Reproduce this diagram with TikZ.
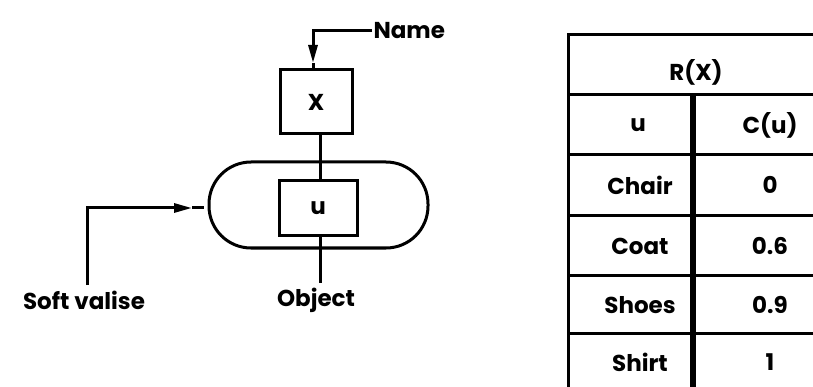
\documentclass[tikz,border=0pt]{standalone}
\usepackage{fontspec}
\setmainfont{Poppins}
\usetikzlibrary{arrows.meta}
\begin{document}
\begin{tikzpicture}[x=1pt,y=-1pt,line width=3pt,
  lbl/.style={font=\fontsize{23}{26}\selectfont\bfseries, inner sep=0pt},
  boxnode/.style={draw, line width=3pt, inner sep=0pt, font=\fontsize{23}{26}\selectfont\bfseries},
  tip/.style={-{Triangle[length=18pt,width=9pt]}},
  rule/.style={line width=3pt},
  thickrule/.style={line width=6pt}]
\useasboundingbox (0,0) rectangle (813,387);
\clip (0,0) rectangle (813,387);
% left diagram
\node[boxnode, minimum width=219pt, minimum height=86pt, rounded corners=42pt] (cap) at (318.5,205) {};
\node[boxnode, minimum width=72pt, minimum height=64pt] (X) at (316,102) {X};
\node[boxnode, minimum width=78pt, minimum height=55pt] (u) at (318,208.5) {u};
\node[lbl, anchor=west] (name) at (372,31) {Name};
\node[lbl] (sv) at (84,300) {Soft valise};
\node[lbl] (obj) at (316,300) {Object};
\coordinate (na) at (313,63);
\coordinate (svc) at (87,285);
\coordinate (sva) at (192,208);
\coordinate (objc) at (320,283);
\draw[tip] (name.west) -| (na);
\draw (na) -- (na |- X.north);
\draw (X.south -| objc) -- (u.north -| objc);
\draw (u.south -| objc) -- (objc);
\draw[tip] (svc) |- (sva);
\draw (sva) -- ([xshift=-4pt]cap.west |- sva);
% table
\draw[rule] (568,35) -- (830,35);
\draw[rule] (568,95) -- (830,95);
\draw[rule] (568,155) -- (830,155);
\draw[rule] (568,216) -- (830,216);
\draw[rule] (568,275) -- (830,275);
\draw[rule] (568,333) -- (830,333);
\draw[rule] (568,33.5) -- (568,400);
\draw[thickrule] (693,95) -- (693,400);
\node[lbl] (rx) at (696,72) {R(X)};
\node[lbl] (hu) at (638,125) {u};
\node[lbl] (hc) at (770,125) {C(u)};
\node[lbl] (r1a) at (640,185) {Chair};
\node[lbl] (r1b) at (770,185) {0};
\node[lbl] (r2a) at (640,246) {Coat};
\node[lbl] (r2b) at (770,246) {0.6};
\node[lbl] (r3a) at (640,305) {Shoes};
\node[lbl] (r3b) at (770,305) {0.9};
\node[lbl] (r4a) at (640,362) {Shirt};
\node[lbl] (r4b) at (770,362) {1};
\end{tikzpicture}
\end{document}
